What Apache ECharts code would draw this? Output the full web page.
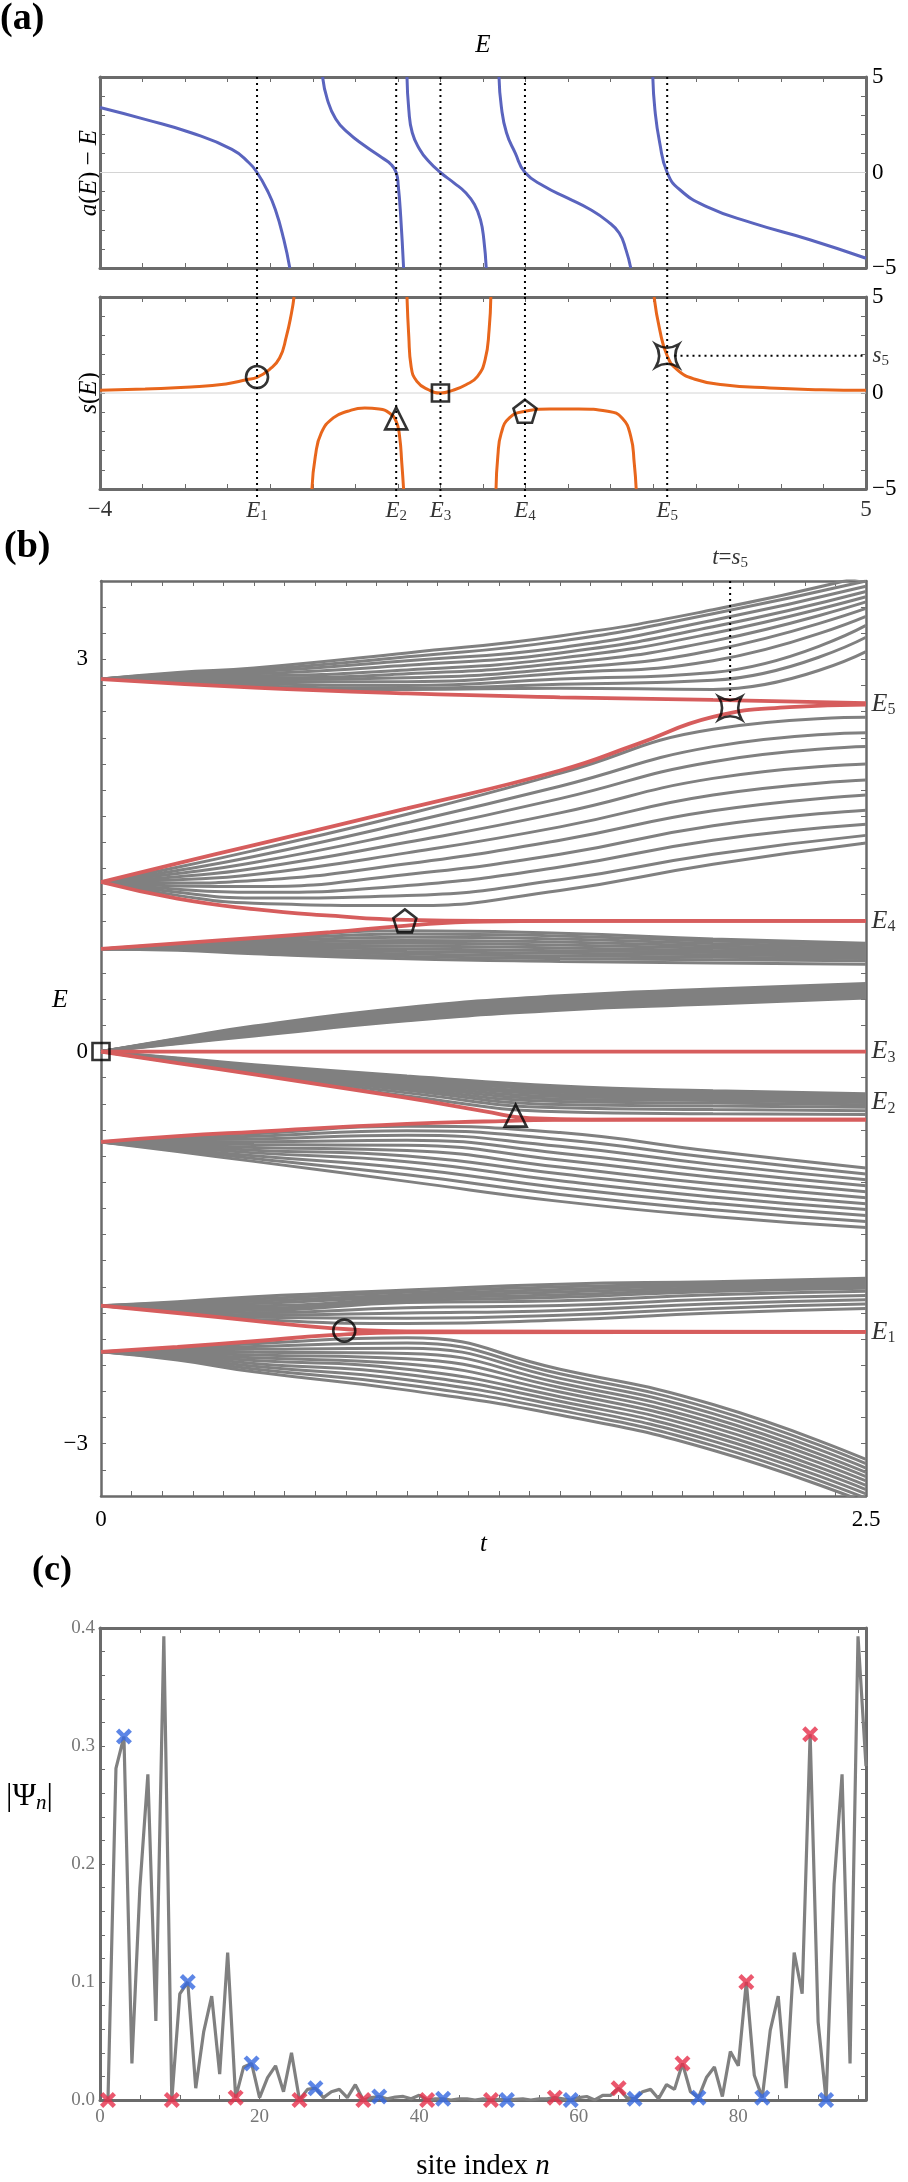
<!DOCTYPE html>
<html>
<head>
<meta charset="utf-8">
<script src="https://cdn.jsdelivr.net/npm/echarts@6/dist/echarts.min.js"></script>
<style>
html, body { margin: 0; padding: 0; background: #fff; }
#main { width: 908px; height: 2182px; }
</style>
</head>
<body>
<div id="main"></div>
<script>
// ---------- panel (a): a(E)-E and s(E), points [E, value] ----------
var aBranch1 = [[-4, 3.40], [-3.47, 2.78], [-2.93, 2.08], [-2.45, 1.21], [-2.25, 0.51], [-2.155, 0], [-2.04, -0.89], [-1.94, -1.94], [-1.84, -3.52], [-1.77, -5]];
var aBranch2 = [[-1.385, 5], [-1.33, 3.84], [-1.23, 2.8], [-1.09, 2.1], [-0.89, 1.4], [-0.685, 0.77], [-0.58, 0.42], [-0.52, 0], [-0.495, -0.72], [-0.467, -2.3], [-0.433, -5]];
var aBranch3 = [[-0.393, 5], [-0.372, 3.3], [-0.331, 2.08], [-0.243, 1.21], [-0.141, 0.6], [0, 0], [0.158, -0.54], [0.30, -1.07], [0.40, -1.68], [0.47, -2.47], [0.51, -3.52], [0.538, -5]];
var aBranch4 = [[0.688, 5], [0.715, 3.46], [0.776, 2.08], [0.878, 1.03], [0.994, 0], [1.218, -0.72], [1.49, -1.33], [1.76, -1.94], [1.965, -2.56], [2.10, -3.17], [2.18, -4.05], [2.236, -5]];
var aBranch5 = [[2.495, 5], [2.52, 3.28], [2.576, 1.56], [2.664, 0], [2.81, -0.89], [3.12, -1.77], [3.66, -2.64], [4.34, -3.52], [5.0, -4.49]];

var sBranch1 = [[-4, 0.14], [-3.47, 0.21], [-2.93, 0.31], [-2.52, 0.47], [-2.28, 0.69], [-2.15, 0.83], [-2.01, 1.22], [-1.89, 1.82], [-1.81, 2.95], [-1.75, 4.17], [-1.72, 5]];
var sBranch2 = [[-1.51, -5], [-1.47, -3.3], [-1.40, -2.08], [-1.26, -1.30], [-1.09, -0.95], [-0.89, -0.78], [-0.72, -0.83], [-0.60, -1.04], [-0.52, -1.48], [-0.48, -2.26], [-0.454, -3.65], [-0.433, -5]];
var sBranch3 = [[-0.393, 5], [-0.372, 2.95], [-0.345, 1.39], [-0.277, 0.61], [-0.141, 0.17], [0, 0], [0.143, 0.14], [0.30, 0.43], [0.436, 0.87], [0.525, 1.74], [0.572, 3.3], [0.592, 5]];
var sBranch4 = [[0.653, -5], [0.674, -3.3], [0.715, -2.08], [0.81, -1.30], [0.993, -0.95], [1.285, -0.83], [1.625, -0.83], [1.965, -0.95], [2.134, -1.30], [2.236, -2.26], [2.277, -3.65], [2.30, -5]];
var sBranch5 = [[2.51, 5], [2.576, 3.3], [2.664, 1.94], [2.78, 1.22], [2.98, 0.73], [3.32, 0.43], [3.87, 0.26], [4.48, 0.17], [5.0, 0.14]];

var eLevels = [-2.155, -0.52, 0, 0.993, 2.664];
var s5 = 1.94;

// ---------- panel (b): spectrum E(t) ----------
var T = [0, 0.25, 0.5, 1.0, 1.5, 2.0, 2.5];

var bandA = [
  [2.85, 2.900, 2.934, 3.05, 3.18, 3.38, 3.64],
  [2.85, 2.893, 2.920, 3.02, 3.14, 3.35, 3.60],
  [2.85, 2.886, 2.905, 2.99, 3.09, 3.30, 3.56],
  [2.85, 2.879, 2.890, 2.955, 3.05, 3.25, 3.52],
  [2.85, 2.872, 2.875, 2.92, 3.01, 3.20, 3.48],
  [2.85, 2.865, 2.860, 2.89, 2.97, 3.14, 3.44],
  [2.85, 2.858, 2.845, 2.86, 2.93, 3.07, 3.39],
  [2.85, 2.851, 2.830, 2.83, 2.895, 2.99, 3.33],
  [2.85, 2.844, 2.815, 2.80, 2.85, 2.90, 3.26],
  [2.85, 2.837, 2.800, 2.78, 2.81, 2.84, 3.17],
  [2.85, 2.830, 2.790, 2.77, 2.78, 2.77, 3.06]
];
var bandB = [
  [1.297, 1.410, 1.538, 1.816, 2.128, 2.466, 2.557],
  [1.297, 1.386, 1.492, 1.750, 2.030, 2.333, 2.440],
  [1.297, 1.362, 1.446, 1.678, 1.935, 2.218, 2.333],
  [1.297, 1.338, 1.400, 1.601, 1.826, 2.090, 2.200],
  [1.297, 1.314, 1.354, 1.520, 1.719, 1.963, 2.077],
  [1.297, 1.290, 1.308, 1.437, 1.617, 1.842, 1.962],
  [1.297, 1.266, 1.262, 1.355, 1.509, 1.727, 1.847],
  [1.297, 1.242, 1.219, 1.270, 1.412, 1.617, 1.739],
  [1.297, 1.218, 1.175, 1.194, 1.314, 1.510, 1.654],
  [1.297, 1.195, 1.135, 1.117, 1.233, 1.433, 1.596]
];
var bandC = [
  [0.785, 0.825, 0.862, 0.925, 0.905, 0.862, 0.828],
  [0.785, 0.820, 0.852, 0.900, 0.885, 0.845, 0.815],
  [0.785, 0.815, 0.840, 0.875, 0.862, 0.826, 0.800],
  [0.785, 0.810, 0.828, 0.850, 0.838, 0.808, 0.785],
  [0.785, 0.805, 0.817, 0.828, 0.815, 0.790, 0.770],
  [0.785, 0.800, 0.806, 0.806, 0.793, 0.773, 0.755],
  [0.785, 0.795, 0.795, 0.785, 0.772, 0.757, 0.742],
  [0.785, 0.790, 0.783, 0.765, 0.752, 0.740, 0.728],
  [0.785, 0.785, 0.772, 0.746, 0.732, 0.722, 0.712],
  [0.785, 0.780, 0.760, 0.728, 0.712, 0.702, 0.695],
  [0.785, 0.775, 0.748, 0.710, 0.690, 0.678, 0.668]
];
var bandD = [
  [0, 0.100, 0.196, 0.337, 0.427, 0.478, 0.521],
  [0, 0.096, 0.188, 0.327, 0.416, 0.466, 0.510],
  [0, 0.092, 0.181, 0.317, 0.405, 0.455, 0.499],
  [0, 0.088, 0.173, 0.306, 0.394, 0.443, 0.487],
  [0, 0.084, 0.166, 0.296, 0.383, 0.432, 0.476],
  [0, 0.080, 0.158, 0.286, 0.372, 0.420, 0.465],
  [0, 0.076, 0.150, 0.276, 0.361, 0.409, 0.454],
  [0, 0.072, 0.143, 0.266, 0.350, 0.397, 0.443],
  [0, 0.068, 0.135, 0.255, 0.339, 0.386, 0.431],
  [0, 0.064, 0.128, 0.245, 0.328, 0.374, 0.420],
  [0, 0.060, 0.120, 0.235, 0.317, 0.363, 0.409]
];
var bandE = [
  [0, -0.050, -0.100, -0.187, -0.264, -0.300, -0.322],
  [0, -0.0535, -0.107, -0.200, -0.280, -0.312, -0.333],
  [0, -0.057, -0.114, -0.213, -0.296, -0.324, -0.344],
  [0, -0.0605, -0.121, -0.226, -0.312, -0.336, -0.355],
  [0, -0.064, -0.128, -0.239, -0.328, -0.348, -0.366],
  [0, -0.0675, -0.135, -0.252, -0.344, -0.360, -0.377],
  [0, -0.071, -0.142, -0.265, -0.362, -0.375, -0.390],
  [0, -0.0745, -0.149, -0.280, -0.382, -0.394, -0.406],
  [0, -0.078, -0.156, -0.296, -0.405, -0.417, -0.426],
  [0, -0.0815, -0.163, -0.316, -0.430, -0.444, -0.452],
  [0, -0.085, -0.170, -0.340, -0.460, -0.476, -0.481]
];
var bandF = [
  [-0.691, -0.655, -0.628, -0.572, -0.620, -0.763, -0.890],
  [-0.691, -0.666, -0.648, -0.605, -0.672, -0.813, -0.936],
  [-0.691, -0.677, -0.669, -0.640, -0.725, -0.863, -0.981],
  [-0.691, -0.688, -0.690, -0.678, -0.777, -0.912, -1.027],
  [-0.691, -0.699, -0.711, -0.717, -0.830, -0.962, -1.072],
  [-0.691, -0.710, -0.733, -0.757, -0.883, -1.012, -1.118],
  [-0.691, -0.721, -0.754, -0.799, -0.935, -1.062, -1.164],
  [-0.691, -0.732, -0.775, -0.842, -0.988, -1.112, -1.209],
  [-0.691, -0.743, -0.797, -0.893, -1.041, -1.161, -1.255],
  [-0.691, -0.754, -0.818, -0.943, -1.093, -1.211, -1.300],
  [-0.691, -0.765, -0.840, -0.993, -1.146, -1.261, -1.346]
];
var bandG = [
  [-1.944, -1.914, -1.875, -1.824, -1.780, -1.760, -1.735],
  [-1.944, -1.922, -1.893, -1.842, -1.800, -1.775, -1.750],
  [-1.944, -1.930, -1.910, -1.860, -1.820, -1.790, -1.765],
  [-1.944, -1.938, -1.928, -1.875, -1.840, -1.805, -1.780],
  [-1.944, -1.946, -1.945, -1.890, -1.860, -1.820, -1.795],
  [-1.944, -1.954, -1.963, -1.905, -1.880, -1.835, -1.810],
  [-1.944, -1.962, -1.980, -1.920, -1.906, -1.860, -1.833],
  [-1.944, -1.970, -1.998, -1.960, -1.943, -1.895, -1.866],
  [-1.944, -1.978, -2.015, -2.000, -1.980, -1.930, -1.899],
  [-1.944, -1.986, -2.033, -2.040, -2.017, -1.965, -1.932],
  [-1.944, -1.995, -2.050, -2.080, -2.054, -2.000, -1.965]
];
var bandH = [
  [-2.297, -2.270, -2.235, -2.190, -2.430, -2.700, -3.120],
  [-2.297, -2.279, -2.257, -2.230, -2.465, -2.735, -3.153],
  [-2.297, -2.288, -2.278, -2.270, -2.500, -2.770, -3.186],
  [-2.297, -2.297, -2.300, -2.310, -2.535, -2.805, -3.219],
  [-2.297, -2.306, -2.321, -2.350, -2.570, -2.840, -3.252],
  [-2.297, -2.315, -2.343, -2.390, -2.605, -2.875, -3.285],
  [-2.297, -2.324, -2.364, -2.430, -2.640, -2.910, -3.318],
  [-2.297, -2.333, -2.386, -2.470, -2.675, -2.945, -3.351],
  [-2.297, -2.342, -2.407, -2.510, -2.710, -2.980, -3.384],
  [-2.297, -2.351, -2.429, -2.550, -2.745, -3.015, -3.417],
  [-2.297, -2.360, -2.450, -2.590, -2.780, -3.050, -3.450]
];

// edge states (red), points [t, E]
var redLines = [
  [[0, 2.85], [0.5, 2.785], [1.0, 2.74], [1.5, 2.71], [2.0, 2.69], [2.5, 2.665]],
  [[0, 1.297], [0.25, 1.44], [0.5, 1.58], [1.0, 1.86], [1.5, 2.15], [1.75, 2.35], [2.0, 2.56], [2.25, 2.635], [2.5, 2.655]],
  [[0, 1.297], [0.25, 1.17], [0.5, 1.09], [0.75, 1.04], [1.0, 1.007], [1.25, 1.0], [2.5, 1.0]],
  [[0, 0.785], [0.25, 0.828], [0.5, 0.869], [0.75, 0.913], [1.0, 0.964], [1.25, 0.995], [1.5, 1.0], [2.5, 1.0]],
  [[0, 0], [2.5, 0]],
  [[0, 0], [0.25, -0.088], [0.5, -0.175], [1.0, -0.355], [1.25, -0.455], [1.4, -0.51], [1.6, -0.52], [2.5, -0.52]],
  [[0, -0.691], [0.25, -0.647], [0.5, -0.614], [1.0, -0.553], [1.25, -0.535], [1.5, -0.523], [2.0, -0.52], [2.5, -0.52]],
  [[0, -1.944], [0.25, -2.0], [0.5, -2.06], [0.75, -2.115], [1.0, -2.14], [2.5, -2.144]],
  [[0, -2.297], [0.25, -2.26], [0.5, -2.216], [0.75, -2.17], [1.0, -2.148], [2.5, -2.144]]
];
var levelLabels = [[2.5, 2.66, '5'], [2.5, 1.0, '4'], [2.5, 0, '3'], [2.5, -0.39, '2'], [2.5, -2.144, '1']];
var tS5 = 2.056;

// ---------- panel (c): |Psi_n| ----------
var psi = [
  0, 0.281, 0.308, 0.031, 0.18, 0.276, 0.067, 0.393, 0, 0.090,
  0.100, 0.010, 0.058, 0.088, 0.022, 0.125, 0.002, 0.028, 0.031, 0.002,
  0.019, 0.029, 0.007, 0.040, 0.0, 0.009, 0.010, 0.002, 0.007, 0.009,
  0.002, 0.013, 0.0, 0.002, 0.003, 0.001, 0.0025, 0.003, 0.001, 0.004,
  0.0, 0.001, 0.001, 0.0, 0.001, 0.001, 0.0, 0.001, 0.0, 0.0005,
  0.0, 0.0005, 0.001, 0.0, 0.001, 0.001, 0.002, 0.001, 0.0, 0.002,
  0.003, 0.0, 0.004, 0.004, 0.010, 0.002, 0.001, 0.007, 0.009, 0.001,
  0.013, 0.009, 0.031, 0.007, 0.002, 0.019, 0.028, 0.003, 0.041, 0.029,
  0.100, 0.021, 0.002, 0.059, 0.088, 0.010, 0.125, 0.090, 0.310, 0.066,
  0.0, 0.183, 0.276, 0.031, 0.393, 0.283
];
var redSites = [1, 9, 17, 25, 33, 41, 49, 57, 65, 73, 81, 89];
var blueSites = [3, 11, 19, 27, 35, 43, 51, 59, 67, 75, 83, 91];

// ---------- styling ----------
var FONT = '"Liberation Serif", "DejaVu Serif", serif';
var FRAME = '#6b6b6b';
var BLUE = '#5a64be', ORANGE = '#e8661c', RED = '#d65d5d', GRAY = '#808080';
var STAR = 'path://M0,0 Q5,3 10,0 Q7,5 10,10 Q5,7 0,10 Q3,5 0,0 Z';
var PENT = 'path://M5,0 L9.76,3.45 L7.94,9.05 L2.06,9.05 L0.24,3.45 Z';
var CROSS = 'path://M2,0 L5,3 L8,0 L10,2 L7,5 L10,8 L8,10 L5,7 L2,10 L0,8 L3,5 L0,2 Z';
var subRich = {
  i: { fontFamily: FONT, fontStyle: 'italic', fontSize: 23, color: '#000' },
  s: { fontFamily: FONT, fontSize: 15, color: '#000', padding: [10, 0, 0, 0] },
  r: { fontFamily: FONT, fontSize: 23, color: '#000' }
};
var nameRich = {
  i: { fontFamily: FONT, fontStyle: 'italic', fontSize: 25, color: '#000' },
  r: { fontFamily: FONT, fontSize: 25, color: '#000' }
};

function ax(grid, pos, min, max, interval, lw, extra) {
  var o = {
    type: 'value', gridIndex: grid, position: pos, min: min, max: max, interval: interval,
    axisLine: { show: true, onZero: false, lineStyle: { color: FRAME, width: lw } },
    axisTick: { show: true, inside: true, length: 5, lineStyle: { color: FRAME, width: 1 } },
    axisLabel: { show: false },
    splitLine: { show: false }
  };
  for (var k in extra) o[k] = extra[k];
  return o;
}
function near(v, x) { return Math.abs(v - x) < 1e-6; }
function rightLabels(v) {
  if (near(v, 5)) return '5';
  if (near(v, 0)) return '0';
  if (near(v, -5)) return '\u22125';
  return '';
}
var lblA = { show: true, inside: false, margin: 6, fontFamily: FONT, fontSize: 23, color: '#000', formatter: rightLabels };

var xAxes = [
  ax(0, 'bottom', -4, 5, 0.5, 3),
  ax(0, 'top', -4, 5, 0.5, 3, { name: 'E', nameLocation: 'middle', nameGap: 19,
    nameTextStyle: { fontFamily: FONT, fontStyle: 'italic', fontSize: 25, color: '#000' } }),
  ax(1, 'bottom', -4, 5, 0.5, 3),
  ax(1, 'top', -4, 5, 0.5, 3),
  ax(2, 'bottom', 0, 2.5, 0.1, 2.5, {
    axisLabel: { show: true, margin: 12, fontFamily: FONT, fontSize: 23, color: '#000',
      formatter: function (v) { return near(v, 0) ? '0' : (near(v, 2.5) ? '2.5' : ''); } },
    name: 't', nameLocation: 'middle', nameGap: 14,
    nameTextStyle: { fontFamily: FONT, fontStyle: 'italic', fontSize: 25, color: '#000' } }),
  ax(2, 'top', 0, 2.5, 0.1, 2.5),
  ax(3, 'bottom', 0, 96, 5, 3, {
    axisLabel: { show: true, margin: 8, fontFamily: FONT, fontSize: 19, color: '#777',
      formatter: function (v) { return (v % 20 === 0) ? String(v) : ''; } },
    name: '{r|site index }{i|n}', nameLocation: 'middle', nameGap: 52,
    nameTextStyle: { rich: {
      r: { fontFamily: FONT, fontSize: 29, color: '#000' },
      i: { fontFamily: FONT, fontStyle: 'italic', fontSize: 29, color: '#000' } } } }),
  ax(3, 'top', 0, 96, 5, 3)
];
var yAxes = [
  ax(0, 'left', -5, 5, 1, 3),
  ax(0, 'right', -5, 5, 1, 3, { axisLabel: lblA }),
  ax(1, 'left', -5, 5, 1, 3),
  ax(1, 'right', -5, 5, 1, 3, { axisLabel: lblA }),
  ax(2, 'left', -3.4, 3.6, 0.2, 2.5, {
    axisLabel: { show: true, margin: 13, fontFamily: FONT, fontSize: 23, color: '#000',
      formatter: function (v) { return near(v, 3) ? '3' : (near(v, 0) ? '0' : (near(v, -3) ? '\u22123' : '')); } } }),
  ax(2, 'right', -3.4, 3.6, 0.2, 2.5),
  ax(3, 'left', 0, 0.4, 0.02, 3, {
    axisLabel: { show: true, margin: 5, fontFamily: FONT, fontSize: 19, color: '#777',
      formatter: function (v) { var k = v * 10; return Math.abs(k - Math.round(k)) < 1e-6 ? v.toFixed(1) : ''; } } }),
  ax(3, 'right', 0, 0.4, 0.02, 3)
];
// each grid has a bottom/top x axis and left/right y axis; data series use the first pair
var AX = [0, 2, 4, 6];

function line(gi, data, color, w, z, opts) {
  var s = { type: 'line', xAxisIndex: AX[gi], yAxisIndex: AX[gi], data: data, showSymbol: false, symbol: 'none',
    lineStyle: { color: color, width: w }, z: z, silent: true, animation: false };
  for (var k in opts) s[k] = opts[k];
  return s;
}
function mark(gi, pt, sym, size) {
  return { type: 'scatter', xAxisIndex: AX[gi], yAxisIndex: AX[gi], data: [pt], symbol: sym, symbolSize: size,
    itemStyle: { color: 'rgba(255,255,255,0)', borderColor: '#000', borderWidth: 2.6 }, z: 20, clip: false, silent: true };
}
function labels(gi, data, pos, dist, fmt, rich, z) {
  return { type: 'scatter', xAxisIndex: AX[gi], yAxisIndex: AX[gi], data: data, symbolSize: 1,
    itemStyle: { color: 'rgba(0,0,0,0)' }, clip: false, silent: true, z: z || 20,
    label: { show: true, position: pos, distance: dist, formatter: fmt, rich: rich, fontFamily: FONT, fontSize: 23, color: '#000' } };
}
var dotted = { color: '#000', width: 2, type: [2, 4] };

var series = [];
var smooth = { smooth: 0.5 };

// panel (a) top
series.push(line(0, [[-4, 0], [5, 0]], '#d4d4d4', 1, 1));
[aBranch1, aBranch2, aBranch3, aBranch4, aBranch5].forEach(function (b) { series.push(line(0, b, BLUE, 3, 3, smooth)); });
eLevels.forEach(function (e) {
  series.push(line(0, [[e, 5], [e, -6.52]], null, 2, 4, { clip: false, lineStyle: dotted }));
  series.push(line(1, [[e, 5], [e, -5.42]], null, 2, 4, { clip: false, lineStyle: dotted }));
});
// panel (a) bottom
series.push(line(1, [[-4, 0], [5, 0]], '#d4d4d4', 1, 1));
[sBranch1, sBranch2, sBranch3, sBranch4, sBranch5].forEach(function (b) { series.push(line(1, b, ORANGE, 3, 3, smooth)); });
series.push(line(1, [[2.75, s5], [5, s5]], null, 2, 4, { lineStyle: dotted }));
series.push(mark(1, [eLevels[0], 0.83], 'circle', 22));
series.push(mark(1, [eLevels[1], -1.32], 'triangle', 22));
series.push(mark(1, [0, 0], 'rect', 17));
series.push(mark(1, [eLevels[3], -0.95], PENT, 23));
series.push(mark(1, [eLevels[4], s5], STAR, 23));
var aTicks = [[-4, -5, '\u22124'], [eLevels[0], -5, '1'], [eLevels[1], -5, '2'], [eLevels[2], -5, '3'],
  [eLevels[3], -5, '4'], [eLevels[4], -5, '5'], [5, -5, '5n']];
series.push(labels(1, aTicks, 'bottom', 9, function (p) {
  var k = p.data[2];
  if (k === '\u22124') return '{r|\u22124}';
  if (k === '5n') return '{r|5}';
  return '{i|E}{s|' + k + '}';
}, subRich));
series.push(labels(1, [[5, s5]], 'right', 6, function () { return '{i|s}{s|5}'; }, subRich));

// panel (b)
[bandA, bandB, bandC, bandD, bandE, bandF, bandG, bandH].forEach(function (band) {
  band.forEach(function (row) {
    series.push(line(2, T.map(function (t, i) { return [t, row[i]]; }), GRAY, 3, 2, smooth));
  });
});
redLines.forEach(function (r) { series.push(line(2, r, RED, 3.8, 3, smooth)); });
series.push(line(2, [[tS5, 3.6], [tS5, 2.72]], null, 2, 4, { lineStyle: dotted }));
series.push(mark(2, [0.795, -2.135], 'circle', 22));
series.push(mark(2, [1.355, -0.49], 'triangle', 22));
series.push(mark(2, [0, 0], 'rect', 17));
series.push(mark(2, [0.993, 1.0], PENT, 23));
series.push(mark(2, [tS5, 2.627], STAR, 23));
series.push(labels(2, levelLabels, 'right', 5, function (p) { return '{i|E}{s|' + p.data[2] + '}'; },
  { i: { fontFamily: FONT, fontStyle: 'italic', fontSize: 26, color: '#000' },
    s: { fontFamily: FONT, fontSize: 16, color: '#000', padding: [12, 0, 0, 0] } }));
series.push(labels(2, [[tS5, 3.6]], 'top', 10, function () { return '{i|t}{r|=}{i|s}{s|5}'; }, subRich));

// panel (c)
series.push(line(3, psi.map(function (v, i) { return [i + 1, v]; }), GRAY, 3.2, 3));
series.push({ type: 'scatter', xAxisIndex: 6, yAxisIndex: 6, data: redSites.map(function (n) { return [n, psi[n - 1]]; }),
  symbol: CROSS, symbolSize: 16, itemStyle: { color: '#e62e4a' }, z: 10, clip: false, silent: true });
series.push({ type: 'scatter', xAxisIndex: 6, yAxisIndex: 6, data: blueSites.map(function (n) { return [n, psi[n - 1]]; }),
  symbol: CROSS, symbolSize: 16, itemStyle: { color: '#3568e0' }, z: 10, clip: false, silent: true });

var chart = echarts.init(document.getElementById('main'), null, { renderer: 'canvas' });
chart.setOption({
  animation: false,
  backgroundColor: '#fff',
  grid: [
    { left: 100, top: 77, width: 766, height: 191 },
    { left: 100, top: 297, width: 766, height: 192 },
    { left: 101, top: 581, width: 765, height: 915 },
    { left: 100, top: 1628, width: 766, height: 474 }
  ],
  xAxis: xAxes,
  yAxis: yAxes,
  series: series,
  graphic: [
    { type: 'text', left: 0, top: 0, style: { text: '(a)', font: 'bold 38px ' + FONT, fill: '#000' } },
    { type: 'text', left: 4, top: 528, style: { text: '(b)', font: 'bold 38px ' + FONT, fill: '#000' } },
    { type: 'text', left: 32, top: 1553, style: { text: '(c)', font: 'bold 36px ' + FONT, fill: '#000' } },
    { type: 'text', x: 89, y: 173, rotation: Math.PI / 2,
      style: { text: '{i|a}{r|(}{i|E}{r|) \u2212 }{i|E}', align: 'center', verticalAlign: 'middle', rich: nameRich } },
    { type: 'text', x: 89, y: 393, rotation: Math.PI / 2,
      style: { text: '{i|s}{r|(}{i|E}{r|)}', align: 'center', verticalAlign: 'middle', rich: nameRich } },
    { type: 'text', left: 52, top: 987, style: { text: 'E', font: 'italic 26px ' + FONT, fill: '#000' } },
    { type: 'text', left: 6, top: 1781, style: { text: '|\u03a8{s|n}|', font: '32px ' + FONT, fill: '#000',
      rich: { s: { fontFamily: FONT, fontStyle: 'italic', fontSize: 21, padding: [13, 0, 0, 0] } } } }
  ]
});
</script>
</body>
</html>
